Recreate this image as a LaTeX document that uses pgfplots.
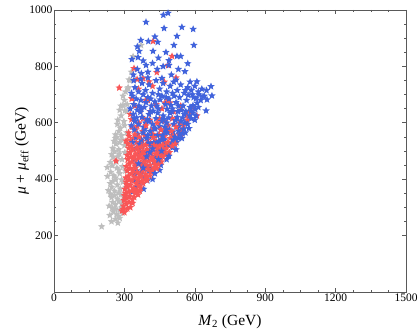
\documentclass[border=0pt]{standalone}
\usepackage{fontspec}
\setmainfont{Liberation Serif}
\usepackage{pgfplots}
\pgfplotsset{compat=1.18}
\definecolor{pgray}{HTML}{BEBEBE}
\definecolor{pred}{HTML}{F95657}
\definecolor{pblue}{HTML}{4163DC}
\pgfdeclareplotmark{fstar}{%
  \pgfpathmoveto{\pgfpointpolar{90}{\pgfplotmarksize}}%
  \pgfpathlineto{\pgfpointpolar{126}{0.45*\pgfplotmarksize}}%
  \pgfpathlineto{\pgfpointpolar{162}{\pgfplotmarksize}}%
  \pgfpathlineto{\pgfpointpolar{198}{0.45*\pgfplotmarksize}}%
  \pgfpathlineto{\pgfpointpolar{234}{\pgfplotmarksize}}%
  \pgfpathlineto{\pgfpointpolar{270}{0.45*\pgfplotmarksize}}%
  \pgfpathlineto{\pgfpointpolar{306}{\pgfplotmarksize}}%
  \pgfpathlineto{\pgfpointpolar{342}{0.45*\pgfplotmarksize}}%
  \pgfpathlineto{\pgfpointpolar{18}{\pgfplotmarksize}}%
  \pgfpathlineto{\pgfpointpolar{54}{0.45*\pgfplotmarksize}}%
  \pgfpathclose
  \pgfusepathqfill
}
\begin{document}
\begin{tikzpicture}
\useasboundingbox (-54pt,-44pt) rectangle (365pt,292pt);
\begin{axis}[
  scale only axis, width=352pt, height=282pt,
  xmin=0, xmax=1500, ymin=0, ymax=1000,
  xtick={0,300,...,1500}, ytick={200,400,...,1000},
  minor x tick num=3, minor y tick num=3,
  tick align=inside, xtick pos=both, ytick pos=both,
  major tick length=4pt, minor tick length=2.2pt,
  axis line style={draw=black!65, line width=0.8pt},
  every tick/.style={black!65, line width=0.6pt},
  ticklabel style={font=\fontsize{11.5}{13}\selectfont},
  xticklabel style={yshift=2pt}, yticklabel style={xshift=2pt},
  /pgf/number format/assume math mode=true,
  /pgf/number format/1000 sep={},
  label style={font=\fontsize{15.5}{18}\selectfont},
  xlabel={\textit{M}\textsubscript{2} (GeV)},
  ylabel={\textit{μ} + \textit{μ}\textsubscript{eff} (GeV)},
  xlabel style={at={(axis description cs:0.5,-0.106)}, anchor=center},
  ylabel style={at={(axis description cs:-0.091,0.5)}, anchor=center},
  every axis plot/.append style={only marks, mark=fstar, mark size=3.9pt},
]
% gray points
\addplot[color=pgray] coordinates {
(203,232) (245,250) (262,258) (272,245) (280,262)
(238,272) (252,285) (266,276) (280,290) (292,280) (248,298) (262,295) (275,268) (290,300)
(235,305) (250,318) (262,310) (276,322) (288,312) (300,325) (245,335) (258,342) (270,330) (284,345) (296,338) (308,340) (240,348)
(232,360) (246,372) (258,358) (270,380) (282,366) (294,390) (306,372) (250,392) (262,398) (276,352) (288,398) (240,385)
(228,410) (242,425) (255,412) (268,440) (280,420) (292,445) (304,430) (248,448) (262,405) (276,432) (227,442)
(240,460) (252,478) (266,462) (278,490) (290,470) (302,495) (258,498) (272,480) (246,488)
(250,510) (264,525) (276,505) (288,540) (300,520) (262,545) (280,530) (256,535) (267,549)
(262,558) (276,570) (288,555) (300,590) (270,595) (282,582) (310,565)
(272,610) (286,625) (298,605) (310,640) (280,645) (302,643)
(285,660) (300,680) (312,665) (294,695) (294,661)
(316,725) (320,753) (305,710) (337,835) (371,875) (330,780) (324,750) (315,721)
};
% red points, upper part (under the blue)
\addplot[color=pred] coordinates {
(315,525) (327,538) (339,545) (351,530) (375,535) (387,555) (399,540) (411,528) (435,535) (447,558) (459,540) (471,552) (495,545) (507,555) (519,538) (531,560) (543,555) (320,552) (370,522) (395,525) (420,560) (445,525) (470,530) (307,536)
(318,565) (332,585) (348,575) (362,600) (378,570) (408,610) (424,580) (472,605) (488,590) (504,615) (536,600) (552,590) (568,610) (330,612) (355,588) (380,615) (415,570) (450,615) (545,575)
(325,630) (345,660) (368,645) (390,680) (410,640) (435,665) (460,650) (486,680) (510,640) (540,660) (575,640) (566,625) (588,654) (333,686) (401,679) (473,671) (494,671) (609,625) (331,686)
(278,724) (341,793) (379,757) (354,754) (405,746) (438,779) (486,804) (422,889) (503,836) (360,720) (420,730) (470,745) (520,760)
};
% blue points
\addplot[color=pblue] coordinates {
(335,355) (350,372) (365,388) (382,365) (398,395) (420,400) (340,395)
(345,415) (372,425) (400,445) (455,450) (388,410) (415,440) (440,458)
(352,430) (378,452) (405,428) (425,462) (450,432)
(340,470) (362,488) (385,470) (432,482) (480,470) (505,512) (520,505) (350,510) (375,515) (470,515)
(468,490) (365,500) (390,495) (412,520) (438,500) (420,478) (455,485)
(335,530) (350,548) (365,525) (380,565) (395,545) (410,570) (425,530) (440,555) (455,575) (470,540) (485,565) (500,528) (515,550) (530,572) (545,545) (560,565) (575,580) (342,575) (372,540) (402,528) (432,578) (462,555) (492,575) (522,530) (552,578) (357,560) (387,578) (417,552) (447,535) (477,578) (507,568) (537,558)
(462,540) (488,520) (510,540) (530,545) (548,562) (435,525) (398,555) (470,568)
(330,590) (345,605) (360,595) (375,620) (390,600) (405,630) (420,595) (435,615) (450,588) (465,625) (480,600) (495,635) (510,595) (525,620) (540,605) (555,630) (570,595) (585,615) (600,610) (338,630) (352,618) (368,638) (382,585) (398,612) (412,640) (428,582) (442,635) (458,605) (472,585) (488,618) (502,640) (518,608) (532,588) (548,618) (562,640) (578,625) (592,635) (605,625)
(342,615) (405,605) (468,612) (528,640) (558,600) (583,642)
(325,650) (340,665) (355,645) (370,680) (385,655) (400,690) (415,660) (430,675) (445,650) (460,695) (475,665) (490,685) (505,650) (520,672) (535,690) (550,660) (565,680) (580,655) (595,690) (610,670) (625,680) (640,695) (335,695) (362,660) (392,672) (422,642) (452,682) (482,648) (512,695) (542,645) (572,698) (602,648) (648,643) (635,693) (652,682) (592,661) (605,686)
(372,650) (438,660) (498,662) (615,655) (350,685) (380,700) (412,685) (445,700) (478,690) (505,705) (530,660) (560,715) (590,700) (618,700)
(330,705) (345,725) (360,710) (375,740) (390,715) (405,735) (420,705) (435,750) (450,720) (465,740) (480,710) (495,730) (510,745) (525,715) (540,735) (555,705) (570,725) (585,715) (600,730) (615,710) (630,720) (650,715) (669,729) (673,696) (340,750) (370,755) (400,760) (460,758) (520,752) (580,745) (609,746)
(338,770) (355,790) (372,775) (392,804) (420,811) (465,800) (490,804) (490,821) (558,782) (363,854) (422,854) (477,850) (540,836) (524,836) (332,825) (358,832) (511,875) (596,875) (400,780) (440,790) (530,790) (500,770) (380,820) (445,830) (570,810)
(392,957) (466,982) (486,989) (469,935) (545,939) (593,932) (524,907) (370,893) (402,889) (442,886) (355,870) (430,905)
};
% red points, lower part (drawn on top)
\addplot[color=pred] coordinates {
(290,288) (300,282) (312,295) (325,300) (296,305) (308,312) (320,318) (335,315) (296,293)
(298,325) (310,332) (322,340) (334,328) (346,350) (358,345) (305,350) (318,355) (330,358) (342,336) (300,342) (354,360) (366,358)
(302,365) (314,372) (326,380) (338,368) (350,385) (362,375) (374,392) (386,398) (308,390) (320,398) (332,395) (344,362) (356,398) (368,370) (380,385) (396,396) (310,382)
(306,405) (318,412) (330,420) (342,408) (354,425) (366,415) (378,430) (390,418) (402,435) (414,425) (426,440) (438,438) (312,430) (324,438) (336,432) (348,440) (360,404) (372,410) (384,440) (396,408) (408,412) (420,428) (444,452)
(308,445) (320,455) (332,462) (344,448) (356,470) (368,458) (380,475) (392,450) (404,465) (416,478) (428,460) (440,472) (452,468) (464,480) (476,490) (314,470) (326,478) (338,475) (350,455) (362,480) (374,445) (386,462) (398,478) (410,450) (422,470) (434,450) (446,485) (458,462) (264,465)
(312,485) (324,495) (336,505) (348,490) (360,500) (372,515) (384,488) (396,505) (408,498) (420,512) (432,490) (444,505) (456,515) (468,500) (480,510) (492,495) (504,518) (516,525) (318,510) (330,518) (342,482) (354,512) (366,485) (378,500) (390,520) (402,485) (414,495) (426,520) (438,515) (450,492) (462,520) (474,488)
};
% blue points scattered over the red
\addplot[color=pblue] coordinates {
(360,455) (408,495) (445,470) (490,482) (420,508) (395,480) (458,500) (380,440) (430,420)
};
% red points scattered over the blue
\addplot[color=pred] coordinates {
(363,550) (423,548) (483,530) (392,590) (456,575) (520,585) (345,558) (500,570) (440,600)
};
\end{axis}
\end{tikzpicture}
\end{document}
